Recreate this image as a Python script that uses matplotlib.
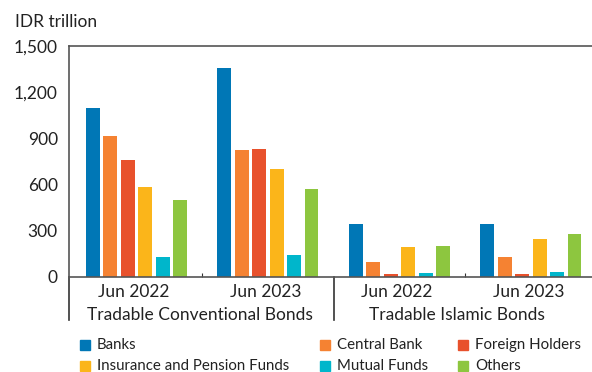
import numpy as np
import matplotlib.pyplot as plt
from matplotlib.patches import Rectangle

plt.rcParams['font.family'] = ['Lato', 'DejaVu Sans']

periods = ['Jun 2022', 'Jun 2023', 'Jun 2022', 'Jun 2023']
sections = ['Tradable Conventional Bonds', 'Tradable Islamic Bonds']
holders = ['Banks', 'Central Bank', 'Foreign Holders',
           'Insurance and Pension Funds', 'Mutual Funds', 'Others']
colors = ['#0077B6', '#F58232', '#E8512C', '#FBB51A', '#00B6CB', '#8DC63F']

# IDR trillion, one list per holder, ordered as the periods above
banks = [1093, 1355, 340, 340]
central_bank = [913, 821, 97, 130]
foreign = [760, 829, 17, 17]
insurance = [582, 701, 191, 245]
mutual = [130, 143, 22, 30]
others = [496, 567, 199, 277]
series = [banks, central_bank, foreign, insurance, mutual, others]

W, H = 592, 372
fig = plt.figure(figsize=(W / 100, H / 100), dpi=100)
ax = fig.add_axes([0.1166, 0.2562, 0.8834, 0.621])

x = np.arange(len(periods))
step = 0.1328
width = 0.104
for i, (vals, c, name) in enumerate(zip(series, colors, holders)):
    ax.bar(x + (i - 2.5) * step, vals, width, color=c, label=name)

ax.set_xlim(-0.513, 3.464)
ax.set_ylim(0, 1500)
ax.set_yticks(np.arange(0, 1501, 300))
ax.set_yticklabels([f'{v:,}' for v in range(0, 1501, 300)])
ax.tick_params(axis='y', length=0, labelsize=12.5, pad=8, colors='#222222')

# small ticks between periods, pointing up
ax.set_xticks([0.5, 2.5])
ax.set_xticklabels([])
ax.tick_params(axis='x', direction='in', length=3, width=0.8, color='#333333')

for s in ['top', 'left', 'bottom']:
    ax.spines[s].set_color('#555555')
    ax.spines[s].set_linewidth(1.2)
ax.spines['right'].set_visible(False)

trans = ax.get_xaxis_transform()
# dividers under the axis
ax.plot([-0.513, -0.513], [0, -0.187], transform=trans, color='#333333',
        lw=1.2, clip_on=False)
ax.plot([1.5, 1.5], [0, -0.187], transform=trans, color='#333333',
        lw=1.2, clip_on=False)

for xi, p in zip(x, periods):
    ax.text(xi - 0.02, -0.065, p, transform=trans, ha='center', va='center',
            fontsize=12.5, color='#222222')
for xc, s in zip([0.48, 2.44], sections):
    ax.text(xc, -0.166, s, transform=trans, ha='center', va='center',
            fontsize=12.5, color='#222222')

fig.text(0.025, 0.94, 'IDR trillion', fontsize=12.5, color='#222222',
         va='center', ha='left')

# legend: two rows, three columns
col_x = [80, 320, 458]
row_y = [345, 366]
sq = 10
for i, (name, c) in enumerate(zip(holders, colors)):
    px = col_x[i % 3]
    py = row_y[i // 3]
    fig.patches.append(Rectangle((px / W, 1 - (py + sq / 2) / H), sq / W, sq / H,
                                 transform=fig.transFigure, color=c))
    fig.text((px + sq + 7) / W, 1 - py / H, name, fontsize=10.8,
             color='#222222', va='center', ha='left')

fig.savefig('out.png', dpi=100)
